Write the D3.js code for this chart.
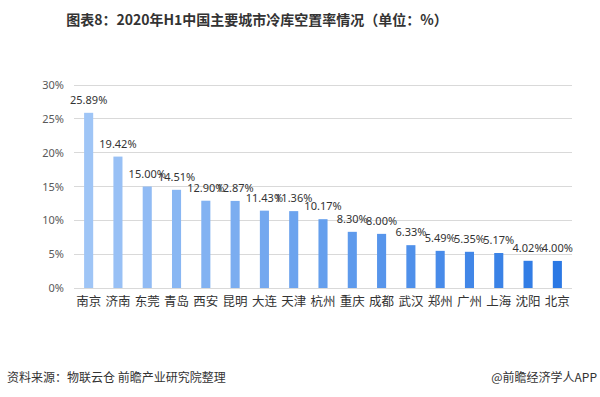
<!DOCTYPE html>
<html>
<head>
<meta charset="utf-8">
<script src="https://cdn.jsdelivr.net/npm/d3@7"></script>
<style>
  body { margin: 0; background: #fff; }
  svg { display: block; font-family: "Noto Sans CJK SC", "Noto Sans", sans-serif; }
</style>
</head>
<body>
<div id="chart"></div>
<script>
const cities = ["南京", "济南", "东莞", "青岛", "西安", "昆明", "大连", "天津", "杭州", "重庆", "成都", "武汉", "郑州", "广州", "上海", "沈阳", "北京"];
const vacancy = [25.89, 19.42, 15.00, 14.51, 12.90, 12.87, 11.43, 11.36, 10.17, 8.30, 8.00, 6.33, 5.49, 5.35, 5.17, 4.02, 4.00];
const yTicks = [0, 5, 10, 15, 20, 25, 30];

const width = 600, height = 397;
const margin = { top: 85, right: 28, bottom: 109, left: 74 };
const chartWidth = width - margin.left - margin.right;
const chartHeight = height - margin.top - margin.bottom;

const svg = d3.select("#chart").append("svg")
  .attr("width", width)
  .attr("height", height);

// title
svg.append("text")
  .attr("x", 257)
  .attr("y", 25)
  .attr("text-anchor", "middle")
  .attr("font-size", 14)
  .attr("font-weight", "bold")
  .attr("fill", "#333")
  .text("图表8：2020年H1中国主要城市冷库空置率情况（单位：%）");

const g = svg.append("g").attr("transform", `translate(${margin.left},${margin.top})`);

const x = d3.scaleBand().domain(cities).range([0, chartWidth]).paddingInner(0.69).paddingOuter(0.345);
const y = d3.scaleLinear().domain([0, 30]).range([chartHeight, 0]);
const color = d3.scaleLinear().domain([0, cities.length - 1]).range(["#9fc5f6", "#2b78e4"]);

// grid
g.selectAll(".grid").data(yTicks).enter().append("line")
  .attr("x1", 0).attr("x2", chartWidth)
  .attr("y1", d => y(d)).attr("y2", d => y(d))
  .attr("stroke", "#d9d9d9").attr("stroke-width", 1)
  .attr("shape-rendering", "crispEdges");

// y labels
const yAxis = g.append("g").call(d3.axisLeft(y).tickValues(yTicks).tickSize(0).tickPadding(10).tickFormat(d => d + "%"));
yAxis.select(".domain").remove();
yAxis.selectAll("text").attr("font-size", 11).attr("fill", "#595959").style("font-family", "\"Noto Sans\", sans-serif");

// bars
g.selectAll(".bar").data(vacancy).enter().append("rect")
  .attr("x", (d, i) => x(cities[i]))
  .attr("y", d => y(d))
  .attr("width", x.bandwidth())
  .attr("height", d => chartHeight - y(d))
  .attr("fill", (d, i) => color(i));

// value labels
g.selectAll(".val").data(vacancy).enter().append("text")
  .attr("x", (d, i) => x(cities[i]) + x.bandwidth() / 2)
  .attr("y", d => y(d) - 9)
  .attr("text-anchor", "middle")
  .attr("font-size", 11)
  .attr("fill", "#333")
  .style("font-family", "\"Noto Sans\", sans-serif")
  .text(d => d.toFixed(2) + "%");

// x labels
const xAxis = g.append("g").attr("transform", `translate(0,${chartHeight})`)
  .call(d3.axisBottom(x).tickSize(0).tickPadding(9));
xAxis.select(".domain").remove();
xAxis.selectAll("text").attr("font-size", 12.5).attr("fill", "#333").style("font-family", "\"Noto Sans CJK SC\", sans-serif");

// footer
svg.append("text")
  .attr("x", 7).attr("y", 382)
  .attr("font-size", 12).attr("fill", "#333")
  .text("资料来源：物联云仓 前瞻产业研究院整理");

svg.append("text")
  .attr("x", 597).attr("y", 382)
  .attr("text-anchor", "end")
  .attr("font-size", 12).attr("fill", "#333")
  .text("@前瞻经济学人APP");
</script>
</body>
</html>
